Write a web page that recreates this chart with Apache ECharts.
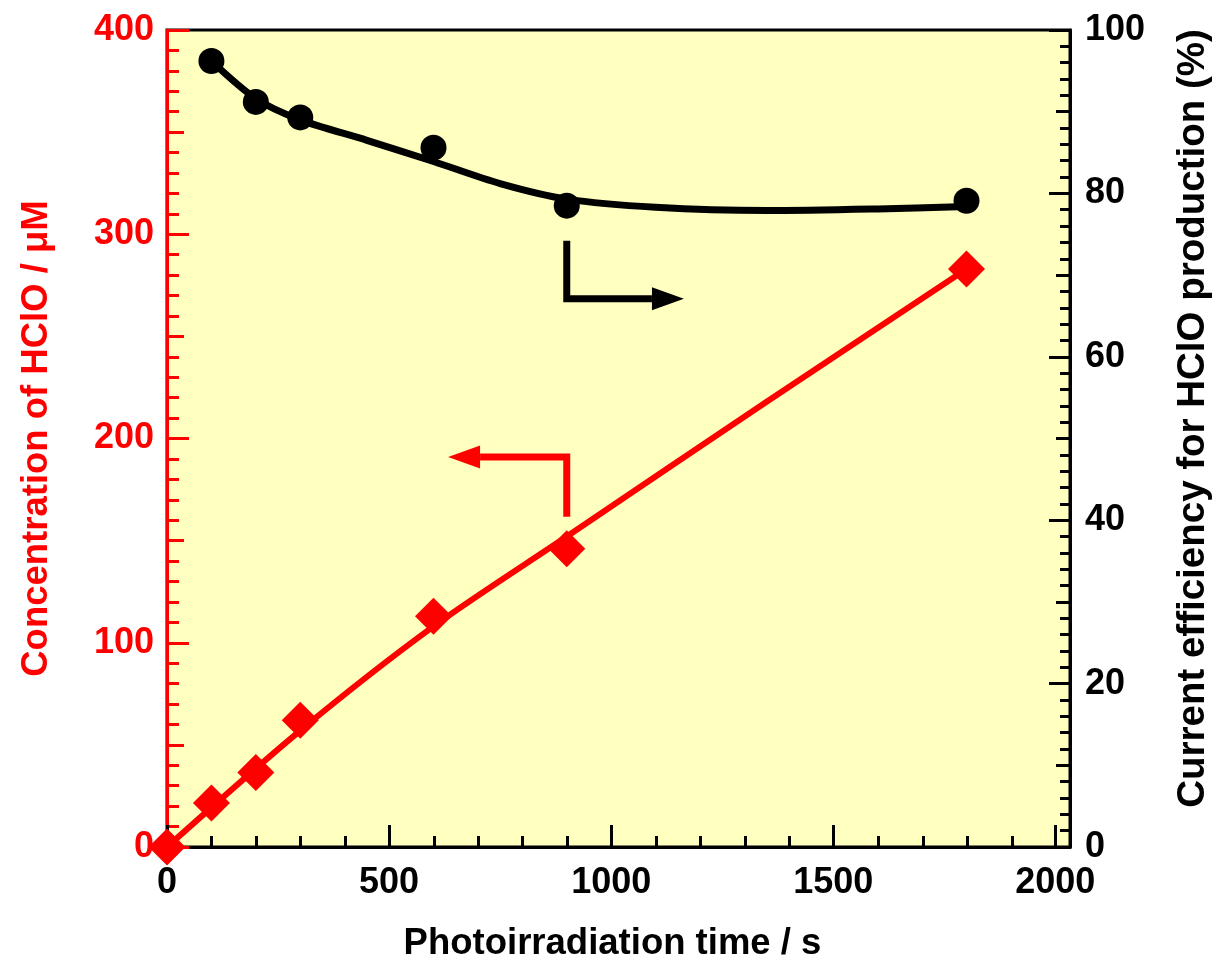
<!DOCTYPE html>
<html><head><meta charset="utf-8">
<script src="https://cdn.jsdelivr.net/npm/echarts@6/dist/echarts.min.js"></script>
<style>html,body{margin:0;padding:0;background:#fff}#c{width:1221px;height:967px}</style>
</head><body><div id="c"></div>
<script>
// ---- data ----
const timeS = [0, 100, 200, 300, 600, 900, 1800];
const hcloConc = [0, 21.5, 36.5, 62, 113, 146, 283];
const effTime = [100, 200, 300, 600, 900, 1800];
const efficiency = [96.2, 91.2, 89.3, 85.6, 78.5, 79.1];
const hcloFitX = [0, 300, 600, 900, 1350, 1800];
const hcloFitY = [0, 57, 108, 152, 218, 283];
const effFitX = [100, 200, 300, 450, 600, 750, 900, 1100, 1350, 1600, 1800];
const effFitY = [96.2, 91.6, 89.0, 86.5, 83.9, 81.2, 79.3, 78.3, 77.9, 78.1, 78.4];
// arrows: [x, yStart, yCorner, xTip]
const blackArrow = [900, 74.2, 67.1, 1163.8];
const redArrow = [900, 161.7, 190.9, 632.8];
// axes / ticks
const xMin = 0, xMax = 2033;
const xMajorTicks = [0, 500, 1000, 1500, 2000];
const xMinorTicks = [100,200,300,400,600,700,800,900,1100,1200,1300,1400,1600,1700,1800,1900];
const leftMajorTicks = [0, 100, 200, 300, 400];
const leftMidTicks = [50, 150, 250, 350];
const leftMinorTicks = [10,20,30,40,60,70,80,90,110,120,130,140,160,170,180,190,210,220,230,240,260,270,280,290,310,320,330,340,360,370,380,390];
const rightMajorTicks = [0, 20, 40, 60, 80, 100];
const rightMidTicks = [10, 30, 50, 70, 90];
const rightMinorTicks = [2,4,6,8,12,14,16,18,22,24,26,28,32,34,36,38,42,44,46,48,52,54,56,58,62,64,66,68,72,74,76,78,82,84,86,88,92,94,96,98];

const FONT = 'Liberation Sans';
const RED = '#ff0000';
const BLACK = '#000000';

function zip(a, b) { return a.map((v, i) => [v, b[i]]); }

function tickOnlyAxis(gridIndex, pos, min, max, vals, len, color) {
  const ax = {
    type: 'value', gridIndex: gridIndex, position: pos, min: min, max: max,
    axisLine: { show: false }, axisLabel: { show: false }, splitLine: { show: false },
    axisTick: { show: vals.length > 0, inside: true, length: len, lineStyle: { color: color, width: 3 } }
  };
  if (vals.length > 0) ax.axisTick.customValues = vals;
  return ax;
}

function arrowRender(params, api) {
  const p1 = api.coord([api.value(0), api.value(1)]);
  const p2 = api.coord([api.value(0), api.value(2)]);
  const p3 = api.coord([api.value(3), api.value(2)]);
  const color = api.visual('color');
  const dir = Math.sign(p3[0] - p2[0]);
  const headLen = 32, headHalf = 11.5;
  const base = [p3[0] - dir * headLen, p3[1]];
  return {
    type: 'group', children: [
      { type: 'polyline', shape: { points: [p1, p2, base] },
        style: { stroke: color, lineWidth: 7, fill: null, lineJoin: 'miter', lineCap: 'butt' } },
      { type: 'polygon', shape: { points: [p3, [base[0], base[1] - headHalf], [base[0], base[1] + headHalf]] },
        style: { fill: color } }
    ]
  };
}

const labelStyle = (color) => ({ color: color, fontSize: 36, fontWeight: 'bold', fontFamily: FONT, formatter: (v) => String(v) });
const nameStyle = (color, size) => ({ color: color, fontSize: size, fontWeight: 'bold', fontFamily: FONT });

const gridBox = { left: 167, right: 150, top: 30, bottom: 120 };

const chart = echarts.init(document.getElementById('c'), null, { renderer: 'canvas' });
chart.setOption({
  animation: false,
  backgroundColor: '#ffffff',
  grid: [
    Object.assign({ show: true, backgroundColor: '#ffffc0', borderColor: BLACK, borderWidth: 3 }, gridBox),
    Object.assign({ show: false }, gridBox),
    Object.assign({ show: false }, gridBox)
  ],
  xAxis: [
    {
      type: 'value', gridIndex: 0, position: 'bottom', min: xMin, max: xMax, splitLine: { show: false },
      axisLine: { lineStyle: { color: BLACK, width: 3 } },
      axisTick: { inside: true, length: 22, customValues: xMajorTicks, lineStyle: { color: BLACK, width: 3 } },
      axisLabel: Object.assign({ customValues: xMajorTicks, margin: 18 }, labelStyle(BLACK)),
      name: 'Photoirradiation time / s', nameLocation: 'middle', nameGap: 78,
      nameTextStyle: Object.assign(nameStyle(BLACK, 36.5), { padding: [0, 12, 0, 0] })
    },
    tickOnlyAxis(1, 'bottom', xMin, xMax, xMinorTicks, 11, BLACK),
    tickOnlyAxis(2, 'bottom', xMin, xMax, [], 0, BLACK)
  ],
  yAxis: [
    {
      type: 'value', gridIndex: 0, position: 'left', min: 0, max: 400, splitLine: { show: false },
      axisLine: { lineStyle: { color: RED, width: 3 } },
      axisTick: { inside: true, length: 22, customValues: leftMajorTicks, lineStyle: { color: RED, width: 3 } },
      axisLabel: Object.assign({ customValues: leftMajorTicks, margin: 13 }, labelStyle(RED)),
      name: 'Concentration of HClO / μM', nameLocation: 'middle', nameGap: 112, nameTextStyle: nameStyle(RED, 36.5)
    },
    {
      type: 'value', gridIndex: 0, position: 'right', min: 0, max: 100, splitLine: { show: false },
      axisLine: { lineStyle: { color: BLACK, width: 3 } },
      axisTick: { inside: true, length: 21, customValues: rightMajorTicks, lineStyle: { color: BLACK, width: 3 } },
      axisLabel: Object.assign({ customValues: rightMajorTicks, margin: 15 }, labelStyle(BLACK)),
      name: 'Current efficiency for HClO production (%)', nameLocation: 'middle', nameGap: 104,
      nameTextStyle: Object.assign(nameStyle(BLACK, 38.5), { padding: [0, 0, 0, 40] })
    },
    tickOnlyAxis(1, 'left', 0, 400, leftMidTicks, 17, RED),
    tickOnlyAxis(1, 'right', 0, 100, rightMidTicks, 15, BLACK),
    tickOnlyAxis(2, 'left', 0, 400, leftMinorTicks, 12, RED),
    tickOnlyAxis(2, 'right', 0, 100, rightMinorTicks, 11, BLACK)
  ],
  series: [
    { type: 'line', xAxisIndex: 0, yAxisIndex: 0, data: zip(hcloFitX, hcloFitY), smooth: 0.3, showSymbol: false,
      lineStyle: { color: RED, width: 6 }, clip: false, z: 3 },
    { type: 'scatter', xAxisIndex: 0, yAxisIndex: 0, data: zip(timeS, hcloConc), symbol: 'diamond', symbolSize: 37,
      itemStyle: { color: RED, opacity: 1 }, clip: false, z: 4 },
    { type: 'line', xAxisIndex: 0, yAxisIndex: 1, data: zip(effFitX, effFitY), smooth: 0.3, showSymbol: false,
      lineStyle: { color: BLACK, width: 7 }, clip: false, z: 3 },
    { type: 'scatter', xAxisIndex: 0, yAxisIndex: 1, data: zip(effTime, efficiency), symbol: 'circle', symbolSize: 26,
      itemStyle: { color: BLACK, opacity: 1 }, clip: false, z: 4 },
    { type: 'custom', xAxisIndex: 0, yAxisIndex: 1, data: [blackArrow], renderItem: arrowRender,
      itemStyle: { color: BLACK }, encode: { x: 0, y: 1 }, clip: false, z: 3 },
    { type: 'custom', xAxisIndex: 0, yAxisIndex: 0, data: [redArrow], renderItem: arrowRender,
      itemStyle: { color: RED }, encode: { x: 0, y: 1 }, clip: false, z: 3 }
  ]
});
</script>
</body></html>
